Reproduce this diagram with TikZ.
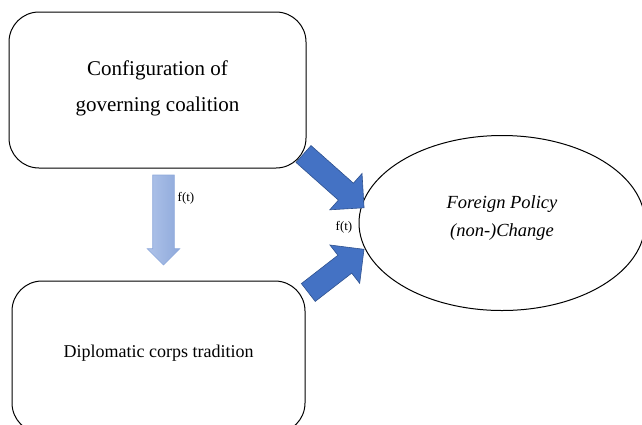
\documentclass[tikz,border=0pt]{standalone}
\usepackage{fontspec}
\setmainfont{Liberation Serif}
\usetikzlibrary{positioning, shapes, shapes.arrows}

\definecolor{arrowblue}{HTML}{4472C4}
\definecolor{arrowline}{HTML}{2F528F}
\definecolor{paleblue}{HTML}{AFC3E9}
\definecolor{midblue}{HTML}{8EA9DB}

\begin{document}
\begin{tikzpicture}[x=1pt, y=-1pt,
	box/.style={draw, line width=1pt, rounded corners=30pt, align=center},
	blockarrow/.style={single arrow, draw=arrowline, fill=arrowblue, line width=0.6pt,
		inner sep=11pt, outer sep=0pt, single arrow head extend=13pt, anchor=tail, minimum height=#1},
	lbl/.style={font=\fontsize{13}{15}\selectfont}]
	\useasboundingbox (0,0) rectangle (642,424);
	\clip (0,0) rectangle (642,424);
	
	\node[box, minimum width=297pt, minimum height=156pt, font=\fontsize{21}{36}\selectfont,
		text depth=8pt] (conf) at (157.5,90) {Configuration of\\governing coalition};
	\node[box, minimum width=293pt, minimum height=152pt, font=\fontsize{18}{22}\selectfont,
		text depth=12pt] (dipl) at (158.5,357) {Diplomatic corps tradition};
	\node[draw, ellipse, line width=1pt, minimum width=286pt, minimum height=175pt, align=center,
		font=\fontsize{18.5}{28}\selectfont\itshape, text depth=14pt] (fpc) at (502,223)
		{Foreign Policy\\(non-)Change};
	
	%arrows
	\node[blockarrow=90pt, rotate=-90, inner sep=10.5pt, single arrow head extend=5.5pt,
		draw=midblue, fill=none, left color=paleblue, right color=midblue] (flow) at (163.5,175) {};
	\node[blockarrow=81pt, rotate=-41.6] (upper) at (303.5,154) {};
	\node[blockarrow=70.5pt, rotate=37.8] (lower) at (308.3,292.5) {};
	
	\node[lbl] (ft1) at (186,198) {f(t)};
	\node[lbl] (ft2) at (344,227) {f(t)};
\end{tikzpicture}
\end{document}
